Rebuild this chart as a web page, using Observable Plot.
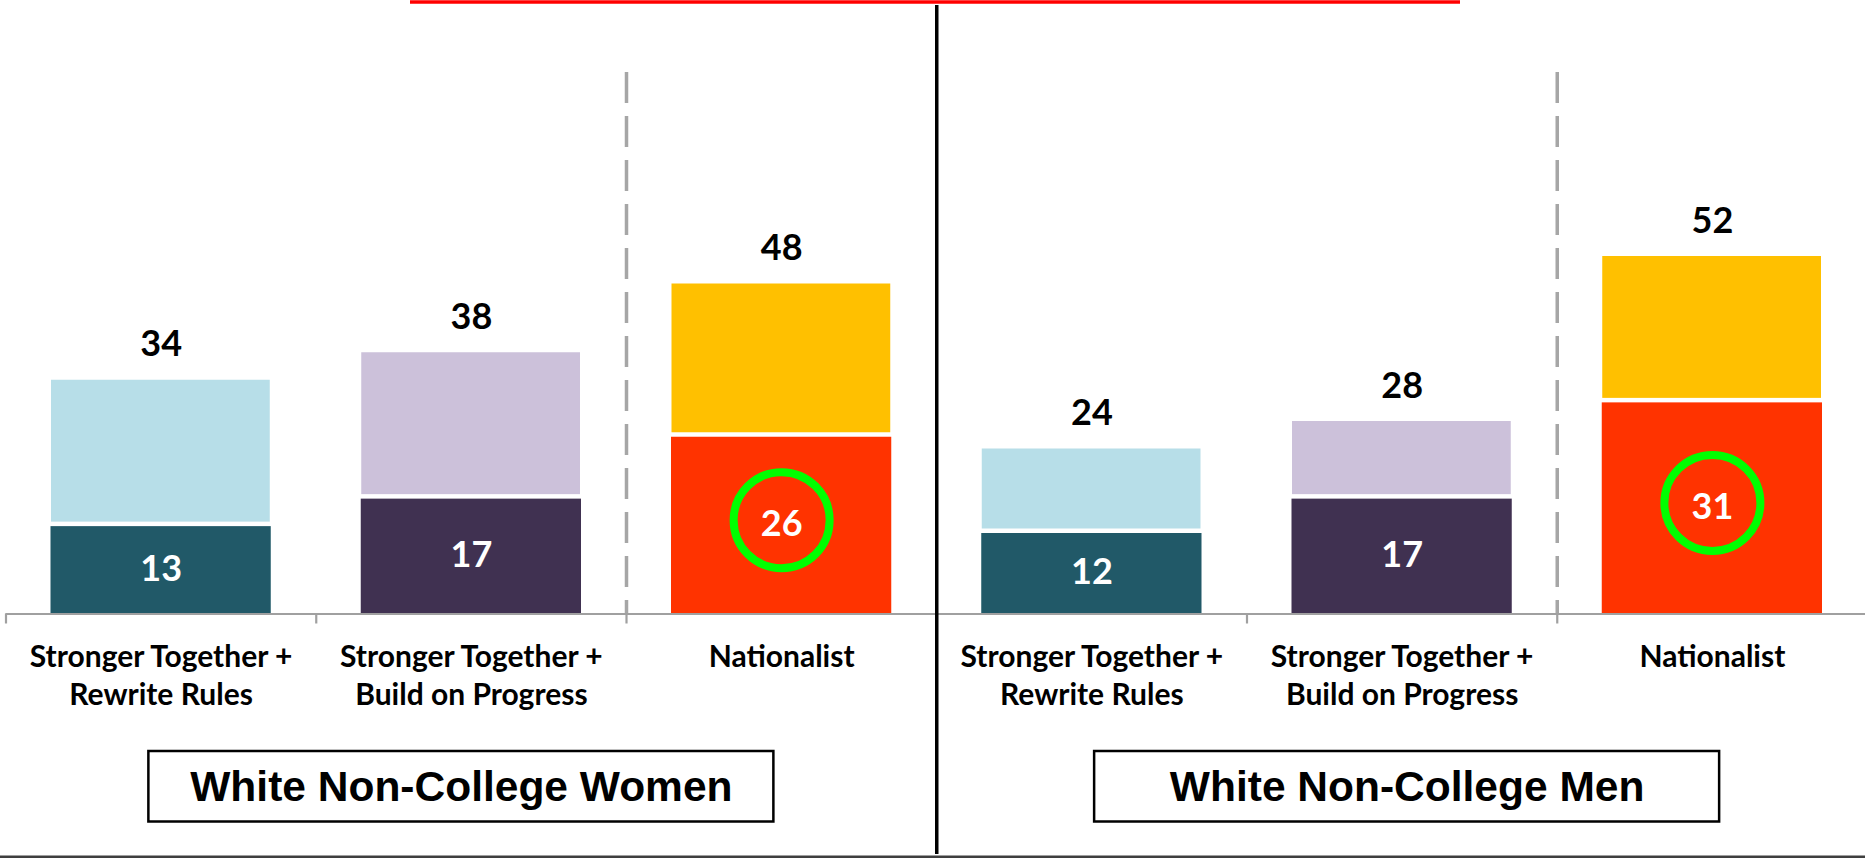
<!DOCTYPE html>
<html>
<head>
<meta charset="utf-8">
<script src="https://cdn.jsdelivr.net/npm/d3@7"></script>
<script src="https://cdn.jsdelivr.net/npm/@observablehq/plot@0.6"></script>
<style>
  html, body { margin: 0; padding: 0; background: #fff; }
  #chart svg { display: block; }
</style>
</head>
<body>
<div id="chart"></div>
<script>
// ---------------- data ----------------
const groups = ["White Non-College Women", "White Non-College Men"];
const categories = ["Stronger Together +\nRewrite Rules", "Stronger Together +\nBuild on Progress", "Nationalist"];
const womenBase = [13, 17, 26];
const womenTotal = [34, 38, 48];
const menBase = [12, 17, 31];
const menTotal = [24, 28, 52];
const highlighted = ["Nationalist"];

// ---------------- styles / layout ----------------
const baseColors = ["#215968", "#403151", "#FF3300"];
const topColors = ["#B7DEE8", "#CCC1DA", "#FFC000"];
const boxShiftPx = [-10, 5];
const W = 1865, H = 858;
const xDomain = [0, 6], xRange = [5.5, 1867];
const yDomain = [0, 52], yRange = [613.5, 256];
const xv = d3.scaleLinear().domain(xRange).range(xDomain); // pixel -> value (layout helpers)
const yv = d3.scaleLinear().domain(yRange).range(yDomain);
const pxPerX = (xRange[1] - xRange[0]) / (xDomain[1] - xDomain[0]);
const calibri = "Lato, 'Open Sans', sans-serif";
const arial = "'Liberation Sans', Arial, sans-serif";

// ---------------- table ----------------
const rows = [];
groups.forEach((g, gi) => categories.forEach((c, ci) => {
  rows.push({
    group: g, gi, category: c, ci,
    slot: gi * categories.length + ci,
    base: (gi === 0 ? womenBase : menBase)[ci],
    total: (gi === 0 ? womenTotal : menTotal)[ci]
  });
}));
const groupRows = groups.map((g, gi) => ({group: g, center: gi * categories.length + categories.length / 2 + boxShiftPx[gi] / pxPerX}));
const boundaries = d3.range(0, rows.length + 1);
const sectionDividers = groups.map((g, gi) => gi * categories.length + 2); // before "Nationalist"
const boxHalf = 625 / 2 / pxPerX;

const chart = Plot.plot({
  width: W, height: H,
  marginTop: 0, marginBottom: 0, marginLeft: 0, marginRight: 0,
  style: {background: "white", overflow: "visible"},
  x: {domain: xDomain, range: xRange, axis: null},
  y: {domain: yDomain, range: yRange, axis: null},
  color: {type: "identity"},
  marks: [
    // red accent line at top
    Plot.ruleY([yv(1.5)], {x1: xv(410), x2: xv(1460), stroke: "#FF0000", strokeWidth: 3.5}),
    // dashed separators
    Plot.ruleX(sectionDividers, {stroke: "#A6A6A6", strokeWidth: 3.5, strokeDasharray: "31,13", insetTop: 72, insetBottom: H - yRange[0]}),
    // bars - lower segment
    Plot.rectY(rows, {x1: d => d.slot, x2: d => d.slot + 1, y1: 0, y2: "base", fill: d => baseColors[d.ci], insetLeft: 45, insetRight: 45, insetTop: 2}),
    // bars - upper segment
    Plot.rectY(rows, {x1: d => d.slot, x2: d => d.slot + 1, y1: "base", y2: "total", fill: d => topColors[d.ci], insetLeft: 45.5, insetRight: 46, insetBottom: 2.5}),
    // axis line and ticks
    Plot.ruleY([0], {x1: 0, x2: 6, stroke: "#A0A0A0", strokeWidth: 2.2}),
    Plot.ruleX(boundaries, {y1: 0, y2: yv(yRange[0] + 10), stroke: "#A0A0A0", strokeWidth: 2.2}),
    // main vertical divider
    Plot.ruleX([categories.length], {stroke: "#000", strokeWidth: 3.5, insetTop: 5, insetBottom: 4}),
    // totals
    Plot.text(rows, {x: d => d.slot + 0.5, y: "total", text: d => String(d.total), dy: -24, lineAnchor: "bottom",
      fontFamily: calibri, fontWeight: "bold", fontSize: 36, fill: "#000"}),
    // base labels
    Plot.text(rows, {x: d => d.slot + 0.5, y: d => d.base / 2, text: d => String(d.base), lineAnchor: "middle",
      fontFamily: calibri, fontWeight: "bold", fontSize: 36, fill: "#fff"}),
    // highlight circles
    Plot.dot(rows.filter(d => highlighted.includes(d.category)), {x: d => d.slot + 0.5, y: d => d.base / 2, r: 48, dy: -4.5,
      stroke: "#00FF00", strokeWidth: 8, fill: "none"}),
    // category labels
    Plot.text(rows, {x: d => d.slot + 0.5, y: 0, text: "category", dy: 25.5, lineAnchor: "top", lineHeight: 1.27,
      fontFamily: calibri, fontWeight: "bold", fontSize: 30, fill: "#000"}),
    // group boxes
    Plot.rect(groupRows, {x1: d => d.center - boxHalf, x2: d => d.center + boxHalf, y1: yv(751), y2: yv(821.5),
      fill: "#fff", stroke: "#000", strokeWidth: 2.5}),
    Plot.text(groupRows, {x: "center", y: yv(787), text: "group", lineAnchor: "middle",
      fontFamily: arial, fontWeight: "bold", fontSize: 42.5, fill: "#000"}),
    // bottom border line
    Plot.ruleY([yv(856.5)], {stroke: "#3F3F3F", strokeWidth: 3})
  ]
});
document.getElementById("chart").appendChild(chart);
</script>
</body>
</html>
